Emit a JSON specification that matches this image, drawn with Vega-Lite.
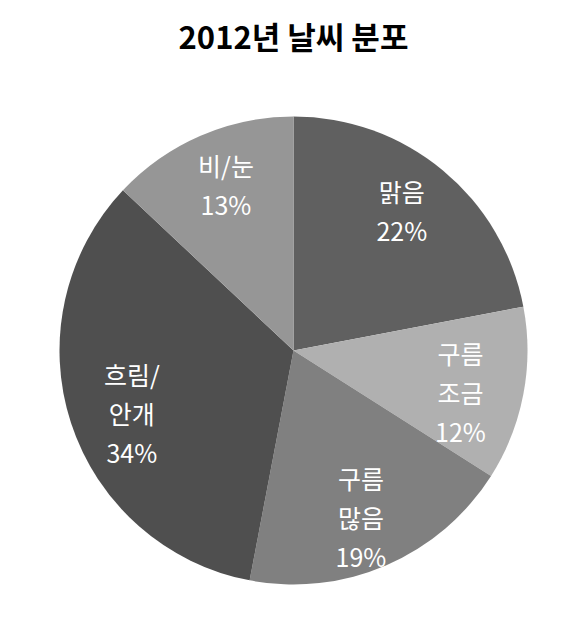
{
  "$schema": "https://vega.github.io/schema/vega-lite/v6.json",
  "width": 587,
  "height": 639,
  "autosize": {"type": "fit", "contains": "padding"},
  "padding": {"top": 24, "left": 0, "right": 0, "bottom": 0},
  "background": "white",
  "title": {
    "text": "2012년 날씨 분포",
    "font": "Noto Sans CJK KR",
    "fontSize": 31,
    "fontWeight": "bold",
    "color": "black",
    "offset": 6
  },
  "data": {
    "values": [
      {"order": 1, "category": "맑음", "label": "맑음\n22%", "pct": 22},
      {"order": 2, "category": "구름 조금", "label": "구름\n조금\n12%", "pct": 12},
      {"order": 3, "category": "구름 많음", "label": "구름\n많음\n19%", "pct": 19},
      {"order": 4, "category": "흐림/안개", "label": "흐림/\n안개\n34%", "pct": 34},
      {"order": 5, "category": "비/눈", "label": "비/눈\n13%", "pct": 13}
    ]
  },
  "encoding": {
    "theta": {"field": "pct", "type": "quantitative", "stack": true},
    "order": {"field": "order", "type": "quantitative"}
  },
  "layer": [
    {
      "mark": {"type": "arc", "outerRadius": 234},
      "encoding": {
        "color": {
          "field": "category",
          "type": "nominal",
          "sort": ["맑음", "구름 조금", "구름 많음", "흐림/안개", "비/눈"],
          "scale": {
            "domain": ["맑음", "구름 조금", "구름 많음", "흐림/안개", "비/눈"],
            "range": ["#606060", "#b0b0b0", "#808080", "#4f4f4f", "#969696"]
          },
          "legend": null
        }
      }
    },
    {
      "mark": {
        "type": "text",
        "radius": 170,
        "dy": -26,
        "font": "Noto Sans CJK KR",
        "fontSize": 25,
        "color": "white",
        "lineBreak": "\n",
        "lineHeight": 39,
        "align": "center",
        "baseline": "middle"
      },
      "encoding": {
        "text": {"field": "label"}
      }
    }
  ],
  "config": {
    "view": {"stroke": null}
  }
}
